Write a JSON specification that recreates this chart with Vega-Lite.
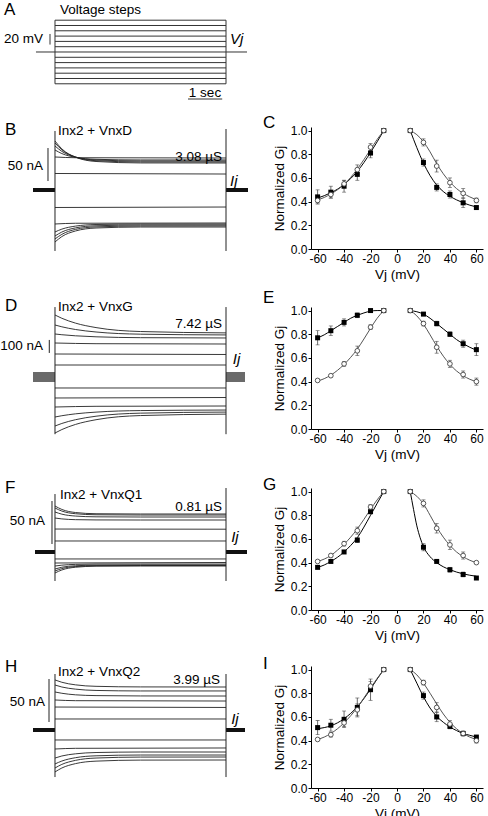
{
"$schema":"https://vega.github.io/schema/vega-lite/v6.json",
"padding":0,
"spacing":0,
"config":{
"view":{"stroke":null},
"font":"Liberation Sans",
"axis":{"labelFont":"Liberation Sans","titleFont":"Liberation Sans","labelFontSize":12,"titleFontSize":13.5,"titleFontWeight":"normal","labelColor":"#000","titleColor":"#000","domainColor":"#000","tickColor":"#000","tickSize":3,"labelPadding":1,"grid":false,"labelFlush":false,"labelOverlap":false},
"axisY":{"titlePadding":4},
"axisX":{"titlePadding":3,"labelExpr":"replace(datum.label, '\u2212', '-')"},
"text":{"font":"Liberation Sans","fontSize":13.5,"color":"#000"},
"title":{"font":"Liberation Sans","fontSize":17,"fontWeight":"normal","color":"#000","anchor":"start","frame":"group","offset":0,"baseline":"alphabetic","dx":-48}
},
"datasets":{
"traces":[
{"p":"B","v":10,"t":0,"i":25.0},{"p":"B","v":10,"t":5,"i":24.2},
{"p":"B","v":20,"t":0,"i":50.0},{"p":"B","v":20,"t":0.6,"i":48.9},{"p":"B","v":20,"t":5,"i":48.5},
{"p":"B","v":30,"t":0,"i":60.6},{"p":"B","v":30,"t":0.2,"i":55.2},{"p":"B","v":30,"t":0.6,"i":49.5},{"p":"B","v":30,"t":1.2,"i":46.5},{"p":"B","v":30,"t":2.5,"i":45.5},{"p":"B","v":30,"t":5,"i":45.5},
{"p":"B","v":40,"t":0,"i":66.7},{"p":"B","v":40,"t":0.2,"i":58.5},{"p":"B","v":40,"t":0.6,"i":49.9},{"p":"B","v":40,"t":1.2,"i":45.5},{"p":"B","v":40,"t":2.5,"i":44.0},{"p":"B","v":40,"t":5,"i":43.9},
{"p":"B","v":50,"t":0,"i":71.2},{"p":"B","v":50,"t":0.2,"i":60.9},{"p":"B","v":50,"t":0.6,"i":50.0},{"p":"B","v":50,"t":1.2,"i":44.4},{"p":"B","v":50,"t":2.5,"i":42.5},{"p":"B","v":50,"t":5,"i":42.4},
{"p":"B","v":60,"t":0,"i":74.2},{"p":"B","v":60,"t":0.2,"i":62.3},{"p":"B","v":60,"t":0.6,"i":49.7},{"p":"B","v":60,"t":1.2,"i":43.2},{"p":"B","v":60,"t":2.5,"i":41.0},{"p":"B","v":60,"t":5,"i":40.9},
{"p":"B","v":-10,"t":0,"i":-26.5},{"p":"B","v":-10,"t":5,"i":-25.8},
{"p":"B","v":-20,"t":0,"i":-51.5},{"p":"B","v":-20,"t":0.6,"i":-50.4},{"p":"B","v":-20,"t":5,"i":-50.0},
{"p":"B","v":-30,"t":0,"i":-63.6},{"p":"B","v":-30,"t":0.2,"i":-59.3},{"p":"B","v":-30,"t":0.6,"i":-54.7},{"p":"B","v":-30,"t":1.2,"i":-52.3},{"p":"B","v":-30,"t":2.5,"i":-51.6},{"p":"B","v":-30,"t":5,"i":-51.5},
{"p":"B","v":-40,"t":0,"i":-69.7},{"p":"B","v":-40,"t":0.2,"i":-63.7},{"p":"B","v":-40,"t":0.6,"i":-57.4},{"p":"B","v":-40,"t":1.2,"i":-54.2},{"p":"B","v":-40,"t":2.5,"i":-53.1},{"p":"B","v":-40,"t":5,"i":-53.0},
{"p":"B","v":-50,"t":0,"i":-74.2},{"p":"B","v":-50,"t":0.2,"i":-67.2},{"p":"B","v":-50,"t":0.6,"i":-59.7},{"p":"B","v":-50,"t":1.2,"i":-55.9},{"p":"B","v":-50,"t":2.5,"i":-54.6},{"p":"B","v":-50,"t":5,"i":-54.5},
{"p":"B","v":-60,"t":0,"i":-78.8},{"p":"B","v":-60,"t":0.2,"i":-70.6},{"p":"B","v":-60,"t":0.6,"i":-62.1},{"p":"B","v":-60,"t":1.2,"i":-57.6},{"p":"B","v":-60,"t":2.5,"i":-56.1},{"p":"B","v":-60,"t":5,"i":-56.1},

{"p":"D","v":10,"t":0,"i":92.3},{"p":"D","v":10,"t":5,"i":92.3},
{"p":"D","v":20,"t":0,"i":176.9},{"p":"D","v":20,"t":5,"i":173.1},
{"p":"D","v":30,"t":0,"i":261.5},{"p":"D","v":30,"t":1.2,"i":256.2},{"p":"D","v":30,"t":5,"i":253.8},
{"p":"D","v":40,"t":0,"i":330.8},{"p":"D","v":40,"t":0.2,"i":325.2},{"p":"D","v":40,"t":0.6,"i":316.9},{"p":"D","v":40,"t":1.2,"i":309.2},{"p":"D","v":40,"t":2.5,"i":302.5},{"p":"D","v":40,"t":5,"i":300.2},
{"p":"D","v":50,"t":0,"i":400.0},{"p":"D","v":50,"t":0.2,"i":386.1},{"p":"D","v":50,"t":0.6,"i":365.3},{"p":"D","v":50,"t":1.2,"i":346.2},{"p":"D","v":50,"t":2.5,"i":329.4},{"p":"D","v":50,"t":5,"i":323.6},
{"p":"D","v":60,"t":0,"i":476.9},{"p":"D","v":60,"t":0.2,"i":451.8},{"p":"D","v":60,"t":0.6,"i":414.4},{"p":"D","v":60,"t":1.2,"i":380.1},{"p":"D","v":60,"t":2.5,"i":349.8},{"p":"D","v":60,"t":5,"i":339.4},
{"p":"D","v":-10,"t":0,"i":-84.6},{"p":"D","v":-10,"t":5,"i":-84.6},
{"p":"D","v":-20,"t":0,"i":-161.5},{"p":"D","v":-20,"t":5,"i":-157.7},
{"p":"D","v":-30,"t":0,"i":-230.8},{"p":"D","v":-30,"t":1.2,"i":-225.4},{"p":"D","v":-30,"t":5,"i":-223.1},
{"p":"D","v":-40,"t":0,"i":-307.7},{"p":"D","v":-40,"t":0.2,"i":-297.9},{"p":"D","v":-40,"t":0.6,"i":-283.4},{"p":"D","v":-40,"t":1.2,"i":-270.1},{"p":"D","v":-40,"t":2.5,"i":-258.2},{"p":"D","v":-40,"t":5,"i":-254.2},
{"p":"D","v":-50,"t":0,"i":-376.9},{"p":"D","v":-50,"t":0.2,"i":-357.4},{"p":"D","v":-50,"t":0.6,"i":-328.4},{"p":"D","v":-50,"t":1.2,"i":-301.6},{"p":"D","v":-50,"t":2.5,"i":-278.1},{"p":"D","v":-50,"t":5,"i":-269.9},
{"p":"D","v":-60,"t":0,"i":-430.8},{"p":"D","v":-60,"t":0.2,"i":-404.3},{"p":"D","v":-60,"t":0.6,"i":-364.8},{"p":"D","v":-60,"t":1.2,"i":-328.6},{"p":"D","v":-60,"t":2.5,"i":-296.6},{"p":"D","v":-60,"t":5,"i":-285.6},

{"p":"F","v":10,"t":0,"i":12.8},{"p":"F","v":10,"t":5,"i":12.8},
{"p":"F","v":20,"t":0,"i":26.7},{"p":"F","v":20,"t":5,"i":26.5},
{"p":"F","v":30,"t":0,"i":39.5},{"p":"F","v":30,"t":0.2,"i":38.5},{"p":"F","v":30,"t":0.6,"i":37.6},{"p":"F","v":30,"t":1.2,"i":37.3},{"p":"F","v":30,"t":2.5,"i":37.2},{"p":"F","v":30,"t":5,"i":37.2},
{"p":"F","v":40,"t":0,"i":46.5},{"p":"F","v":40,"t":0.2,"i":44.0},{"p":"F","v":40,"t":0.6,"i":41.8},{"p":"F","v":40,"t":1.2,"i":40.9},{"p":"F","v":40,"t":2.5,"i":40.7},{"p":"F","v":40,"t":5,"i":40.7},
{"p":"F","v":50,"t":0,"i":51.2},{"p":"F","v":50,"t":0.2,"i":47.6},{"p":"F","v":50,"t":0.6,"i":44.5},{"p":"F","v":50,"t":1.2,"i":43.3},{"p":"F","v":50,"t":2.5,"i":43.0},{"p":"F","v":50,"t":5,"i":43.0},
{"p":"F","v":60,"t":0,"i":53.5},{"p":"F","v":60,"t":0.2,"i":49.5},{"p":"F","v":60,"t":0.6,"i":45.9},{"p":"F","v":60,"t":1.2,"i":44.5},{"p":"F","v":60,"t":2.5,"i":44.2},{"p":"F","v":60,"t":5,"i":44.2},
{"p":"F","v":-10,"t":0,"i":-8.1},{"p":"F","v":-10,"t":5,"i":-8.1},
{"p":"F","v":-20,"t":0,"i":-12.8},{"p":"F","v":-20,"t":5,"i":-12.2},
{"p":"F","v":-30,"t":0,"i":-16.3},{"p":"F","v":-30,"t":0.2,"i":-15.3},{"p":"F","v":-30,"t":0.6,"i":-14.4},{"p":"F","v":-30,"t":1.2,"i":-14.0},{"p":"F","v":-30,"t":2.5,"i":-14.0},{"p":"F","v":-30,"t":5,"i":-14.0},
{"p":"F","v":-40,"t":0,"i":-19.8},{"p":"F","v":-40,"t":0.2,"i":-17.7},{"p":"F","v":-40,"t":0.6,"i":-16.0},{"p":"F","v":-40,"t":1.2,"i":-15.3},{"p":"F","v":-40,"t":2.5,"i":-15.1},{"p":"F","v":-40,"t":5,"i":-15.1},
{"p":"F","v":-50,"t":0,"i":-22.1},{"p":"F","v":-50,"t":0.2,"i":-19.3},{"p":"F","v":-50,"t":0.6,"i":-16.9},{"p":"F","v":-50,"t":1.2,"i":-15.9},{"p":"F","v":-50,"t":2.5,"i":-15.7},{"p":"F","v":-50,"t":5,"i":-15.7},
{"p":"F","v":-60,"t":0,"i":-24.4},{"p":"F","v":-60,"t":0.2,"i":-20.9},{"p":"F","v":-60,"t":0.6,"i":-17.7},{"p":"F","v":-60,"t":1.2,"i":-16.5},{"p":"F","v":-60,"t":2.5,"i":-16.3},{"p":"F","v":-60,"t":5,"i":-16.3},

{"p":"H","v":10,"t":0,"i":12.8},{"p":"H","v":10,"t":5,"i":12.8},
{"p":"H","v":20,"t":0,"i":26.7},{"p":"H","v":20,"t":5,"i":26.2},
{"p":"H","v":30,"t":0,"i":34.9},{"p":"H","v":30,"t":0.6,"i":34.1},{"p":"H","v":30,"t":5,"i":33.7},
{"p":"H","v":40,"t":0,"i":44.2},{"p":"H","v":40,"t":0.2,"i":42.7},{"p":"H","v":40,"t":0.6,"i":40.9},{"p":"H","v":40,"t":1.2,"i":40.0},{"p":"H","v":40,"t":2.5,"i":39.6},{"p":"H","v":40,"t":5,"i":39.5},
{"p":"H","v":50,"t":0,"i":52.3},{"p":"H","v":50,"t":0.2,"i":50.0},{"p":"H","v":50,"t":0.6,"i":47.5},{"p":"H","v":50,"t":1.2,"i":46.0},{"p":"H","v":50,"t":2.5,"i":45.4},{"p":"H","v":50,"t":5,"i":45.4},
{"p":"H","v":60,"t":0,"i":58.2},{"p":"H","v":60,"t":0.2,"i":55.5},{"p":"H","v":60,"t":0.6,"i":52.5},{"p":"H","v":60,"t":1.2,"i":50.8},{"p":"H","v":60,"t":2.5,"i":50.1},{"p":"H","v":60,"t":5,"i":50.0},
{"p":"H","v":-10,"t":0,"i":-11.6},{"p":"H","v":-10,"t":5,"i":-11.6},
{"p":"H","v":-20,"t":0,"i":-22.1},{"p":"H","v":-20,"t":0.6,"i":-21.3},{"p":"H","v":-20,"t":5,"i":-20.9},
{"p":"H","v":-30,"t":0,"i":-32.6},{"p":"H","v":-30,"t":0.2,"i":-30.2},{"p":"H","v":-30,"t":0.6,"i":-27.7},{"p":"H","v":-30,"t":1.2,"i":-26.2},{"p":"H","v":-30,"t":2.5,"i":-25.6},{"p":"H","v":-30,"t":5,"i":-25.6},
{"p":"H","v":-40,"t":0,"i":-39.5},{"p":"H","v":-40,"t":0.2,"i":-36.1},{"p":"H","v":-40,"t":0.6,"i":-32.2},{"p":"H","v":-40,"t":1.2,"i":-30.0},{"p":"H","v":-40,"t":2.5,"i":-29.1},{"p":"H","v":-40,"t":5,"i":-29.1},
{"p":"H","v":-50,"t":0,"i":-44.2},{"p":"H","v":-50,"t":0.2,"i":-40.0},{"p":"H","v":-50,"t":0.6,"i":-35.3},{"p":"H","v":-50,"t":1.2,"i":-32.6},{"p":"H","v":-50,"t":2.5,"i":-31.5},{"p":"H","v":-50,"t":5,"i":-31.4},
{"p":"H","v":-60,"t":0,"i":-48.8},{"p":"H","v":-60,"t":0.2,"i":-44.2},{"p":"H","v":-60,"t":0.6,"i":-39.1},{"p":"H","v":-60,"t":1.2,"i":-36.2},{"p":"H","v":-60,"t":2.5,"i":-35.0},{"p":"H","v":-60,"t":5,"i":-34.9}
],
"edges":[
{"p":"A","t":0,"i":-60,"i2":60},{"p":"A","t":5,"i":-60,"i2":60},{"p":"A","t":-0.146,"i":14,"i2":34},
{"p":"B","t":0,"i":-92.4,"i2":89.4},{"p":"B","t":5,"i":-92.4,"i2":92.4},{"p":"B","t":-0.205,"i":13.6,"i2":63.6},
{"p":"D","t":0,"i":-440,"i2":538},{"p":"D","t":5,"i":-440,"i2":538},{"p":"D","t":-0.167,"i":185,"i2":285},
{"p":"F","t":0,"i":-33.7,"i2":67.4},{"p":"F","t":5,"i":-33.7,"i2":74.4},{"p":"F","t":-0.088,"i":9.3,"i2":59.3},
{"p":"H","t":0,"i":-54.7,"i2":65.1},{"p":"H","t":5,"i":-54.7,"i2":65.1},{"p":"H","t":-0.175,"i":9.3,"i2":59.3}
],
"hold":[
{"p":"A","t":-0.556,"t2":5.614,"i":0},{"p":"A","t":3.889,"t2":4.889,"i":-88.7},
{"p":"A","t":0,"t2":5,"i":-60},{"p":"A","t":0,"t2":5,"i":-50},{"p":"A","t":0,"t2":5,"i":-40},{"p":"A","t":0,"t2":5,"i":-30},{"p":"A","t":0,"t2":5,"i":-20},{"p":"A","t":0,"t2":5,"i":-10},
{"p":"A","t":0,"t2":5,"i":10},{"p":"A","t":0,"t2":5,"i":20},{"p":"A","t":0,"t2":5,"i":30},{"p":"A","t":0,"t2":5,"i":40},{"p":"A","t":0,"t2":5,"i":50},{"p":"A","t":0,"t2":5,"i":60},
{"p":"B","t":-0.643,"t2":0,"i":0},{"p":"B","t":5,"t2":5.643,"i":0},
{"p":"D","t":-0.643,"t2":0,"i":0},{"p":"D","t":5,"t2":5.555,"i":0},
{"p":"F","t":-0.585,"t2":0,"i":0},{"p":"F","t":5,"t2":5.614,"i":0},
{"p":"H","t":-0.643,"t2":0,"i":0},{"p":"H","t":5,"t2":5.555,"i":0}
],
"labels":[
{"p":"A","k":"letter","t":-1.491,"i":69.8,"text":"A"},{"p":"A","k":"name","t":0.146,"i":71.7,"text":"Voltage steps"},{"p":"A","k":"scale","t":-0.351,"i":24.5,"text":"20 mV"},{"p":"A","k":"ital","t":5.117,"i":24.5,"text":"Vj"},{"p":"A","k":"center","t":4.386,"i":-84.9,"text":"1 sec"},
{"p":"B","k":"letter","t":-1.462,"i":83.3,"text":"B"},{"p":"B","k":"name","t":0.088,"i":83.3,"text":"Inx2 + VnxD"},{"p":"B","k":"cond","t":4.883,"i":43.9,"text":"3.08 µS"},{"p":"B","k":"scale","t":-0.351,"i":36.4,"text":"50 nA"},{"p":"B","k":"ital","t":5.117,"i":13.6,"text":"Ij"},
{"p":"D","k":"letter","t":-1.462,"i":507.7,"text":"D"},{"p":"D","k":"name","t":0.088,"i":507.7,"text":"Inx2 + VnxG"},{"p":"D","k":"cond","t":4.883,"i":376.9,"text":"7.42 µS"},{"p":"D","k":"scale","t":-0.351,"i":238.5,"text":"100 nA"},{"p":"D","k":"ital","t":5.2,"i":138.5,"text":"Ij"},
{"p":"F","k":"letter","t":-1.462,"i":68.6,"text":"F"},{"p":"F","k":"name","t":0.146,"i":61.6,"text":"Inx2 + VnxQ1"},{"p":"F","k":"cond","t":4.883,"i":47.7,"text":"0.81 µS"},{"p":"F","k":"scale","t":-0.292,"i":36.0,"text":"50 nA"},{"p":"F","k":"ital","t":5.15,"i":17.4,"text":"Ij"},
{"p":"H","k":"letter","t":-1.462,"i":67.4,"text":"H"},{"p":"H","k":"name","t":0.088,"i":62.8,"text":"Inx2 + VnxQ2"},{"p":"H","k":"cond","t":4.825,"i":53.5,"text":"3.99 µS"},{"p":"H","k":"scale","t":-0.292,"i":32.6,"text":"50 nA"},{"p":"H","k":"ital","t":5.15,"i":12.8,"text":"Ij"}
],
"gj":[
{"p":"C","s":"sq","v":-60,"g":0.44,"lo":0.38,"hi":0.50},{"p":"C","s":"sq","v":-50,"g":0.48,"lo":0.43,"hi":0.53},{"p":"C","s":"sq","v":-40,"g":0.53,"lo":0.48,"hi":0.58},{"p":"C","s":"sq","v":-30,"g":0.63,"lo":0.58,"hi":0.68},{"p":"C","s":"sq","v":-20,"g":0.81,"lo":0.77,"hi":0.85},{"p":"C","s":"sq","v":-10,"g":1.0},{"p":"C","s":"sq","v":10,"g":1.0},{"p":"C","s":"sq","v":20,"g":0.73,"lo":0.70,"hi":0.76},{"p":"C","s":"sq","v":30,"g":0.52,"lo":0.49,"hi":0.55},{"p":"C","s":"sq","v":40,"g":0.46,"lo":0.43,"hi":0.49},{"p":"C","s":"sq","v":50,"g":0.39,"lo":0.35,"hi":0.43},{"p":"C","s":"sq","v":60,"g":0.35,"lo":0.34,"hi":0.36},
{"p":"C","s":"ci","v":-60,"g":0.41,"lo":0.39,"hi":0.43},{"p":"C","s":"ci","v":-50,"g":0.46,"lo":0.43,"hi":0.49},{"p":"C","s":"ci","v":-40,"g":0.55,"lo":0.52,"hi":0.58},{"p":"C","s":"ci","v":-30,"g":0.67,"lo":0.63,"hi":0.71},{"p":"C","s":"ci","v":-20,"g":0.86,"lo":0.83,"hi":0.89},{"p":"C","s":"ci","v":-10,"g":1.0},{"p":"C","s":"ci","v":10,"g":1.0},{"p":"C","s":"ci","v":20,"g":0.90,"lo":0.87,"hi":0.93},{"p":"C","s":"ci","v":30,"g":0.70,"lo":0.65,"hi":0.75},{"p":"C","s":"ci","v":40,"g":0.56,"lo":0.52,"hi":0.60},{"p":"C","s":"ci","v":50,"g":0.47,"lo":0.43,"hi":0.51},{"p":"C","s":"ci","v":60,"g":0.41,"lo":0.39,"hi":0.43},
{"p":"E","s":"sq","v":-60,"g":0.77,"lo":0.71,"hi":0.83},{"p":"E","s":"sq","v":-50,"g":0.83,"lo":0.79,"hi":0.87},{"p":"E","s":"sq","v":-40,"g":0.90,"lo":0.87,"hi":0.93},{"p":"E","s":"sq","v":-30,"g":0.96,"lo":0.94,"hi":0.98},{"p":"E","s":"sq","v":-20,"g":1.0,"lo":0.99,"hi":1.01},{"p":"E","s":"sq","v":-10,"g":1.0},{"p":"E","s":"sq","v":10,"g":1.0},{"p":"E","s":"sq","v":20,"g":0.97,"lo":0.96,"hi":0.98},{"p":"E","s":"sq","v":30,"g":0.89,"lo":0.87,"hi":0.91},{"p":"E","s":"sq","v":40,"g":0.80,"lo":0.78,"hi":0.82},{"p":"E","s":"sq","v":50,"g":0.72,"lo":0.69,"hi":0.75},{"p":"E","s":"sq","v":60,"g":0.67,"lo":0.62,"hi":0.72},
{"p":"E","s":"ci","v":-60,"g":0.41,"lo":0.40,"hi":0.42},{"p":"E","s":"ci","v":-50,"g":0.45,"lo":0.44,"hi":0.46},{"p":"E","s":"ci","v":-40,"g":0.55,"lo":0.53,"hi":0.57},{"p":"E","s":"ci","v":-30,"g":0.66,"lo":0.62,"hi":0.70},{"p":"E","s":"ci","v":-20,"g":0.86,"lo":0.84,"hi":0.88},{"p":"E","s":"ci","v":-10,"g":1.0},{"p":"E","s":"ci","v":10,"g":1.0},{"p":"E","s":"ci","v":20,"g":0.89,"lo":0.87,"hi":0.91},{"p":"E","s":"ci","v":30,"g":0.69,"lo":0.64,"hi":0.74},{"p":"E","s":"ci","v":40,"g":0.55,"lo":0.52,"hi":0.58},{"p":"E","s":"ci","v":50,"g":0.46,"lo":0.43,"hi":0.49},{"p":"E","s":"ci","v":60,"g":0.40,"lo":0.37,"hi":0.43},
{"p":"G","s":"sq","v":-60,"g":0.36},{"p":"G","s":"sq","v":-50,"g":0.41},{"p":"G","s":"sq","v":-40,"g":0.49},{"p":"G","s":"sq","v":-30,"g":0.59,"lo":0.57,"hi":0.61},{"p":"G","s":"sq","v":-20,"g":0.83},{"p":"G","s":"sq","v":-10,"g":1.0},{"p":"G","s":"sq","v":10,"g":1.0},{"p":"G","s":"sq","v":20,"g":0.53,"lo":0.50,"hi":0.56},{"p":"G","s":"sq","v":30,"g":0.41},{"p":"G","s":"sq","v":40,"g":0.34,"lo":0.32,"hi":0.36},{"p":"G","s":"sq","v":50,"g":0.30,"lo":0.28,"hi":0.32},{"p":"G","s":"sq","v":60,"g":0.27},
{"p":"G","s":"ci","v":-60,"g":0.41},{"p":"G","s":"ci","v":-50,"g":0.46,"lo":0.45,"hi":0.47},{"p":"G","s":"ci","v":-40,"g":0.56,"lo":0.54,"hi":0.58},{"p":"G","s":"ci","v":-30,"g":0.67,"lo":0.64,"hi":0.70},{"p":"G","s":"ci","v":-20,"g":0.87,"lo":0.85,"hi":0.89},{"p":"G","s":"ci","v":-10,"g":1.0},{"p":"G","s":"ci","v":10,"g":1.0},{"p":"G","s":"ci","v":20,"g":0.90,"lo":0.87,"hi":0.93},{"p":"G","s":"ci","v":30,"g":0.69,"lo":0.65,"hi":0.73},{"p":"G","s":"ci","v":40,"g":0.55,"lo":0.51,"hi":0.59},{"p":"G","s":"ci","v":50,"g":0.46,"lo":0.43,"hi":0.49},{"p":"G","s":"ci","v":60,"g":0.40},
{"p":"I","s":"sq","v":-60,"g":0.51,"lo":0.45,"hi":0.57},{"p":"I","s":"sq","v":-50,"g":0.53,"lo":0.48,"hi":0.58},{"p":"I","s":"sq","v":-40,"g":0.58,"lo":0.51,"hi":0.65},{"p":"I","s":"sq","v":-30,"g":0.68,"lo":0.60,"hi":0.76},{"p":"I","s":"sq","v":-20,"g":0.83,"lo":0.74,"hi":0.92},{"p":"I","s":"sq","v":-10,"g":1.0},{"p":"I","s":"sq","v":10,"g":1.0},{"p":"I","s":"sq","v":20,"g":0.78,"lo":0.75,"hi":0.81},{"p":"I","s":"sq","v":30,"g":0.60,"lo":0.56,"hi":0.64},{"p":"I","s":"sq","v":40,"g":0.52,"lo":0.50,"hi":0.54},{"p":"I","s":"sq","v":50,"g":0.46,"lo":0.44,"hi":0.48},{"p":"I","s":"sq","v":60,"g":0.43},
{"p":"I","s":"ci","v":-60,"g":0.41},{"p":"I","s":"ci","v":-50,"g":0.45,"lo":0.43,"hi":0.47},{"p":"I","s":"ci","v":-40,"g":0.55,"lo":0.52,"hi":0.58},{"p":"I","s":"ci","v":-30,"g":0.66,"lo":0.61,"hi":0.71},{"p":"I","s":"ci","v":-20,"g":0.86,"lo":0.82,"hi":0.90},{"p":"I","s":"ci","v":-10,"g":1.0},{"p":"I","s":"ci","v":10,"g":1.0},{"p":"I","s":"ci","v":20,"g":0.89,"lo":0.87,"hi":0.91},{"p":"I","s":"ci","v":30,"g":0.68,"lo":0.64,"hi":0.72},{"p":"I","s":"ci","v":40,"g":0.54,"lo":0.51,"hi":0.57},{"p":"I","s":"ci","v":50,"g":0.46,"lo":0.44,"hi":0.48},{"p":"I","s":"ci","v":60,"g":0.40,"lo":0.38,"hi":0.42}
],
"fits":[
{"p":"C","s":"sq","side":"n","v":-60,"g":0.43},{"p":"C","s":"sq","side":"n","v":-55,"g":0.45},{"p":"C","s":"sq","side":"n","v":-50,"g":0.475},{"p":"C","s":"sq","side":"n","v":-45,"g":0.505},{"p":"C","s":"sq","side":"n","v":-40,"g":0.545},{"p":"C","s":"sq","side":"n","v":-35,"g":0.595},{"p":"C","s":"sq","side":"n","v":-30,"g":0.655},{"p":"C","s":"sq","side":"n","v":-25,"g":0.73},{"p":"C","s":"sq","side":"n","v":-20,"g":0.815},{"p":"C","s":"sq","side":"n","v":-15,"g":0.905},{"p":"C","s":"sq","side":"n","v":-10,"g":1.0},
{"p":"C","s":"ci","side":"n","v":-60,"g":0.415},{"p":"C","s":"ci","side":"n","v":-55,"g":0.435},{"p":"C","s":"ci","side":"n","v":-50,"g":0.465},{"p":"C","s":"ci","side":"n","v":-45,"g":0.5},{"p":"C","s":"ci","side":"n","v":-40,"g":0.545},{"p":"C","s":"ci","side":"n","v":-35,"g":0.605},{"p":"C","s":"ci","side":"n","v":-30,"g":0.675},{"p":"C","s":"ci","side":"n","v":-25,"g":0.755},{"p":"C","s":"ci","side":"n","v":-20,"g":0.84},{"p":"C","s":"ci","side":"n","v":-15,"g":0.925},{"p":"C","s":"ci","side":"n","v":-10,"g":1.0},
{"p":"C","s":"sq","side":"p","v":10,"g":1.0},{"p":"C","s":"sq","side":"p","v":15,"g":0.855},{"p":"C","s":"sq","side":"p","v":20,"g":0.725},{"p":"C","s":"sq","side":"p","v":25,"g":0.62},{"p":"C","s":"sq","side":"p","v":30,"g":0.54},{"p":"C","s":"sq","side":"p","v":35,"g":0.485},{"p":"C","s":"sq","side":"p","v":40,"g":0.445},{"p":"C","s":"sq","side":"p","v":45,"g":0.415},{"p":"C","s":"sq","side":"p","v":50,"g":0.39},{"p":"C","s":"sq","side":"p","v":55,"g":0.37},{"p":"C","s":"sq","side":"p","v":60,"g":0.355},
{"p":"C","s":"ci","side":"p","v":10,"g":1.0},{"p":"C","s":"ci","side":"p","v":15,"g":0.965},{"p":"C","s":"ci","side":"p","v":20,"g":0.905},{"p":"C","s":"ci","side":"p","v":25,"g":0.82},{"p":"C","s":"ci","side":"p","v":30,"g":0.72},{"p":"C","s":"ci","side":"p","v":35,"g":0.635},{"p":"C","s":"ci","side":"p","v":40,"g":0.565},{"p":"C","s":"ci","side":"p","v":45,"g":0.51},{"p":"C","s":"ci","side":"p","v":50,"g":0.47},{"p":"C","s":"ci","side":"p","v":55,"g":0.44},{"p":"C","s":"ci","side":"p","v":60,"g":0.415},
{"p":"E","s":"sq","side":"n","v":-60,"g":0.77},{"p":"E","s":"sq","side":"n","v":-55,"g":0.795},{"p":"E","s":"sq","side":"n","v":-50,"g":0.83},{"p":"E","s":"sq","side":"n","v":-45,"g":0.865},{"p":"E","s":"sq","side":"n","v":-40,"g":0.9},{"p":"E","s":"sq","side":"n","v":-35,"g":0.935},{"p":"E","s":"sq","side":"n","v":-30,"g":0.96},{"p":"E","s":"sq","side":"n","v":-25,"g":0.98},{"p":"E","s":"sq","side":"n","v":-20,"g":0.995},{"p":"E","s":"sq","side":"n","v":-15,"g":1.0},{"p":"E","s":"sq","side":"n","v":-10,"g":1.0},
{"p":"E","s":"ci","side":"n","v":-60,"g":0.405},{"p":"E","s":"ci","side":"n","v":-55,"g":0.425},{"p":"E","s":"ci","side":"n","v":-50,"g":0.455},{"p":"E","s":"ci","side":"n","v":-45,"g":0.495},{"p":"E","s":"ci","side":"n","v":-40,"g":0.545},{"p":"E","s":"ci","side":"n","v":-35,"g":0.605},{"p":"E","s":"ci","side":"n","v":-30,"g":0.675},{"p":"E","s":"ci","side":"n","v":-25,"g":0.76},{"p":"E","s":"ci","side":"n","v":-20,"g":0.85},{"p":"E","s":"ci","side":"n","v":-15,"g":0.935},{"p":"E","s":"ci","side":"n","v":-10,"g":1.0},
{"p":"E","s":"sq","side":"p","v":10,"g":1.0},{"p":"E","s":"sq","side":"p","v":15,"g":0.99},{"p":"E","s":"sq","side":"p","v":20,"g":0.97},{"p":"E","s":"sq","side":"p","v":25,"g":0.935},{"p":"E","s":"sq","side":"p","v":30,"g":0.89},{"p":"E","s":"sq","side":"p","v":35,"g":0.845},{"p":"E","s":"sq","side":"p","v":40,"g":0.8},{"p":"E","s":"sq","side":"p","v":45,"g":0.755},{"p":"E","s":"sq","side":"p","v":50,"g":0.72},{"p":"E","s":"sq","side":"p","v":55,"g":0.69},{"p":"E","s":"sq","side":"p","v":60,"g":0.665},
{"p":"E","s":"ci","side":"p","v":10,"g":1.0},{"p":"E","s":"ci","side":"p","v":15,"g":0.955},{"p":"E","s":"ci","side":"p","v":20,"g":0.885},{"p":"E","s":"ci","side":"p","v":25,"g":0.795},{"p":"E","s":"ci","side":"p","v":30,"g":0.7},{"p":"E","s":"ci","side":"p","v":35,"g":0.615},{"p":"E","s":"ci","side":"p","v":40,"g":0.545},{"p":"E","s":"ci","side":"p","v":45,"g":0.49},{"p":"E","s":"ci","side":"p","v":50,"g":0.45},{"p":"E","s":"ci","side":"p","v":55,"g":0.42},{"p":"E","s":"ci","side":"p","v":60,"g":0.4},
{"p":"G","s":"sq","side":"n","v":-60,"g":0.36},{"p":"G","s":"sq","side":"n","v":-55,"g":0.38},{"p":"G","s":"sq","side":"n","v":-50,"g":0.41},{"p":"G","s":"sq","side":"n","v":-45,"g":0.445},{"p":"G","s":"sq","side":"n","v":-40,"g":0.49},{"p":"G","s":"sq","side":"n","v":-35,"g":0.545},{"p":"G","s":"sq","side":"n","v":-30,"g":0.61},{"p":"G","s":"sq","side":"n","v":-25,"g":0.7},{"p":"G","s":"sq","side":"n","v":-20,"g":0.8},{"p":"G","s":"sq","side":"n","v":-15,"g":0.9},{"p":"G","s":"sq","side":"n","v":-10,"g":1.0},
{"p":"G","s":"ci","side":"n","v":-60,"g":0.41},{"p":"G","s":"ci","side":"n","v":-55,"g":0.43},{"p":"G","s":"ci","side":"n","v":-50,"g":0.46},{"p":"G","s":"ci","side":"n","v":-45,"g":0.505},{"p":"G","s":"ci","side":"n","v":-40,"g":0.555},{"p":"G","s":"ci","side":"n","v":-35,"g":0.615},{"p":"G","s":"ci","side":"n","v":-30,"g":0.685},{"p":"G","s":"ci","side":"n","v":-25,"g":0.765},{"p":"G","s":"ci","side":"n","v":-20,"g":0.85},{"p":"G","s":"ci","side":"n","v":-15,"g":0.93},{"p":"G","s":"ci","side":"n","v":-10,"g":1.0},
{"p":"G","s":"sq","side":"p","v":10,"g":1.0},{"p":"G","s":"sq","side":"p","v":12.5,"g":0.85},{"p":"G","s":"sq","side":"p","v":15,"g":0.71},{"p":"G","s":"sq","side":"p","v":17.5,"g":0.61},{"p":"G","s":"sq","side":"p","v":20,"g":0.535},{"p":"G","s":"sq","side":"p","v":25,"g":0.45},{"p":"G","s":"sq","side":"p","v":30,"g":0.4},{"p":"G","s":"sq","side":"p","v":35,"g":0.365},{"p":"G","s":"sq","side":"p","v":40,"g":0.34},{"p":"G","s":"sq","side":"p","v":50,"g":0.305},{"p":"G","s":"sq","side":"p","v":60,"g":0.285},
{"p":"G","s":"ci","side":"p","v":10,"g":1.0},{"p":"G","s":"ci","side":"p","v":15,"g":0.96},{"p":"G","s":"ci","side":"p","v":20,"g":0.895},{"p":"G","s":"ci","side":"p","v":25,"g":0.8},{"p":"G","s":"ci","side":"p","v":30,"g":0.7},{"p":"G","s":"ci","side":"p","v":35,"g":0.615},{"p":"G","s":"ci","side":"p","v":40,"g":0.545},{"p":"G","s":"ci","side":"p","v":45,"g":0.49},{"p":"G","s":"ci","side":"p","v":50,"g":0.45},{"p":"G","s":"ci","side":"p","v":55,"g":0.42},{"p":"G","s":"ci","side":"p","v":60,"g":0.4},
{"p":"I","s":"sq","side":"n","v":-60,"g":0.5},{"p":"I","s":"sq","side":"n","v":-55,"g":0.51},{"p":"I","s":"sq","side":"n","v":-50,"g":0.525},{"p":"I","s":"sq","side":"n","v":-45,"g":0.55},{"p":"I","s":"sq","side":"n","v":-40,"g":0.585},{"p":"I","s":"sq","side":"n","v":-35,"g":0.63},{"p":"I","s":"sq","side":"n","v":-30,"g":0.685},{"p":"I","s":"sq","side":"n","v":-25,"g":0.755},{"p":"I","s":"sq","side":"n","v":-20,"g":0.835},{"p":"I","s":"sq","side":"n","v":-15,"g":0.92},{"p":"I","s":"sq","side":"n","v":-10,"g":1.0},
{"p":"I","s":"ci","side":"n","v":-60,"g":0.41},{"p":"I","s":"ci","side":"n","v":-55,"g":0.43},{"p":"I","s":"ci","side":"n","v":-50,"g":0.46},{"p":"I","s":"ci","side":"n","v":-45,"g":0.5},{"p":"I","s":"ci","side":"n","v":-40,"g":0.55},{"p":"I","s":"ci","side":"n","v":-35,"g":0.61},{"p":"I","s":"ci","side":"n","v":-30,"g":0.68},{"p":"I","s":"ci","side":"n","v":-25,"g":0.76},{"p":"I","s":"ci","side":"n","v":-20,"g":0.845},{"p":"I","s":"ci","side":"n","v":-15,"g":0.925},{"p":"I","s":"ci","side":"n","v":-10,"g":1.0},
{"p":"I","s":"sq","side":"p","v":10,"g":1.0},{"p":"I","s":"sq","side":"p","v":15,"g":0.885},{"p":"I","s":"sq","side":"p","v":20,"g":0.77},{"p":"I","s":"sq","side":"p","v":25,"g":0.675},{"p":"I","s":"sq","side":"p","v":30,"g":0.605},{"p":"I","s":"sq","side":"p","v":35,"g":0.555},{"p":"I","s":"sq","side":"p","v":40,"g":0.515},{"p":"I","s":"sq","side":"p","v":45,"g":0.485},{"p":"I","s":"sq","side":"p","v":50,"g":0.46},{"p":"I","s":"sq","side":"p","v":55,"g":0.445},{"p":"I","s":"sq","side":"p","v":60,"g":0.43},
{"p":"I","s":"ci","side":"p","v":10,"g":1.0},{"p":"I","s":"ci","side":"p","v":15,"g":0.955},{"p":"I","s":"ci","side":"p","v":20,"g":0.885},{"p":"I","s":"ci","side":"p","v":25,"g":0.8},{"p":"I","s":"ci","side":"p","v":30,"g":0.71},{"p":"I","s":"ci","side":"p","v":35,"g":0.625},{"p":"I","s":"ci","side":"p","v":40,"g":0.555},{"p":"I","s":"ci","side":"p","v":45,"g":0.5},{"p":"I","s":"ci","side":"p","v":50,"g":0.46},{"p":"I","s":"ci","side":"p","v":55,"g":0.43},{"p":"I","s":"ci","side":"p","v":60,"g":0.41}
]
},
"vconcat":[
{
"width":252,"height":113,
"encoding":{"x":{"field":"t","type":"quantitative","scale":{"domain":[-1.608,5.76],"nice":false,"zero":false},"axis":null},"y":{"field":"i","type":"quantitative","scale":{"domain":[-115.1,98.1],"nice":false,"zero":false},"axis":null}},
"layer":[
{"data":{"name":"hold"},"transform":[{"filter":"datum.p==='A'"}],"mark":{"type":"rule","strokeWidth":1,"color":"#333"},"encoding":{"x2":{"field":"t2"}}},
{"data":{"name":"edges"},"transform":[{"filter":"datum.p==='A'"}],"mark":{"type":"rule","strokeWidth":1,"color":"#333"},"encoding":{"y2":{"field":"i2"}}},
{"data":{"name":"labels"},"transform":[{"filter":"datum.p==='A' && datum.k==='letter'"}],"mark":{"type":"text","fontSize":17,"align":"left","baseline":"alphabetic"},"encoding":{"text":{"field":"text"}}},
{"data":{"name":"labels"},"transform":[{"filter":"datum.p==='A' && datum.k==='name'"}],"mark":{"type":"text","align":"left","baseline":"alphabetic"},"encoding":{"text":{"field":"text"}}},
{"data":{"name":"labels"},"transform":[{"filter":"datum.p==='A' && datum.k==='scale'"}],"mark":{"type":"text","align":"right","baseline":"middle"},"encoding":{"text":{"field":"text"}}},
{"data":{"name":"labels"},"transform":[{"filter":"datum.p==='A' && datum.k==='ital'"}],"mark":{"type":"text","align":"left","baseline":"middle","fontStyle":"italic","fontSize":15},"encoding":{"text":{"field":"text"}}},
{"data":{"name":"labels"},"transform":[{"filter":"datum.p==='A' && datum.k==='center'"}],"mark":{"type":"text","align":"center","baseline":"alphabetic"},"encoding":{"text":{"field":"text"}}}
]
},
{"spacing":11,"hconcat":[
{
"width":252,"height":161,
"encoding":{"x":{"field":"t","type":"quantitative","scale":{"domain":[-1.608,5.76],"nice":false,"zero":false},"axis":null},"y":{"field":"i","type":"quantitative","scale":{"domain":[-148.49,95.45],"nice":false,"zero":false},"axis":null}},
"layer":[
{"data":{"name":"hold"},"transform":[{"filter":"datum.p==='B'"}],"mark":{"type":"rule","strokeWidth":4,"color":"#111"},"encoding":{"x2":{"field":"t2"}}},
{"data":{"name":"traces"},"transform":[{"filter":"datum.p==='B'"}],"mark":{"type":"line","interpolate":"monotone","strokeWidth":0.9,"color":"#222"},"encoding":{"detail":{"field":"v","type":"nominal"}}},
{"data":{"name":"edges"},"transform":[{"filter":"datum.p==='B'"}],"mark":{"type":"rule","strokeWidth":1,"color":"#222"},"encoding":{"y2":{"field":"i2"}}},
{"data":{"name":"labels"},"transform":[{"filter":"datum.p==='B' && datum.k==='letter'"}],"mark":{"type":"text","fontSize":17,"align":"left","baseline":"alphabetic"},"encoding":{"text":{"field":"text"}}},
{"data":{"name":"labels"},"transform":[{"filter":"datum.p==='B' && datum.k==='name'"}],"mark":{"type":"text","align":"left","baseline":"alphabetic"},"encoding":{"text":{"field":"text"}}},
{"data":{"name":"labels"},"transform":[{"filter":"datum.p==='B' && datum.k==='cond'"}],"mark":{"type":"text","align":"right","baseline":"alphabetic"},"encoding":{"text":{"field":"text"}}},
{"data":{"name":"labels"},"transform":[{"filter":"datum.p==='B' && datum.k==='scale'"}],"mark":{"type":"text","align":"right","baseline":"middle"},"encoding":{"text":{"field":"text"}}},
{"data":{"name":"labels"},"transform":[{"filter":"datum.p==='B' && datum.k==='ital'"}],"mark":{"type":"text","align":"left","baseline":"middle","fontStyle":"italic","fontSize":15},"encoding":{"text":{"field":"text"}}}
]
},
{
"width":172,"height":122,
"title":{"text":"C","dy":11.4},
"encoding":{"x":{"field":"v","type":"quantitative","scale":{"domain":[-65,65],"nice":false,"zero":false},"axis":{"values":[-60,-40,-20,0,20,40,60],"title":"Vj (mV)"}},"y":{"field":"g","type":"quantitative","scale":{"domain":[0,1.03],"nice":false},"axis":{"values":[0,0.2,0.4,0.6,0.8,1],"format":".1f","title":"Normalized Gj"}}},
"layer":[
{"data":{"name":"fits"},"transform":[{"filter":"datum.p==='C' && datum.s==='sq'"}],"mark":{"type":"line","interpolate":"monotone","color":"#000","strokeWidth":1},"encoding":{"detail":{"field":"side","type":"nominal"}}},
{"data":{"name":"fits"},"transform":[{"filter":"datum.p==='C' && datum.s==='ci'"}],"mark":{"type":"line","interpolate":"monotone","color":"#555","strokeWidth":1},"encoding":{"detail":{"field":"side","type":"nominal"}}},
{"data":{"name":"gj"},"transform":[{"filter":"datum.p==='C' && isValid(datum.lo)"}],"mark":{"type":"rule","color":"#444","strokeWidth":0.8},"encoding":{"y":{"field":"lo","type":"quantitative","title":"Normalized Gj"},"y2":{"field":"hi"}}},
{"data":{"name":"gj"},"transform":[{"filter":"datum.p==='C' && isValid(datum.lo)"}],"mark":{"type":"tick","orient":"horizontal","size":4,"thickness":0.8,"color":"#444"},"encoding":{"y":{"field":"lo","type":"quantitative","title":"Normalized Gj"}}},
{"data":{"name":"gj"},"transform":[{"filter":"datum.p==='C' && isValid(datum.lo)"}],"mark":{"type":"tick","orient":"horizontal","size":4,"thickness":0.8,"color":"#444"},"encoding":{"y":{"field":"hi","type":"quantitative","title":"Normalized Gj"}}},
{"data":{"name":"gj"},"transform":[{"filter":"datum.p==='C' && datum.s==='sq'"}],"mark":{"type":"point","shape":"square","filled":true,"color":"#000","size":25,"opacity":1}},
{"data":{"name":"gj"},"transform":[{"filter":"datum.p==='C' && datum.s==='ci'"}],"mark":{"type":"point","shape":"circle","filled":true,"fill":"#fff","stroke":"#444","strokeWidth":0.9,"size":22,"opacity":1}}
]
}
]},
{"spacing":11,"hconcat":[
{
"width":252,"height":168,
"encoding":{"x":{"field":"t","type":"quantitative","scale":{"domain":[-1.608,5.76],"nice":false,"zero":false},"axis":null},"y":{"field":"i","type":"quantitative","scale":{"domain":[-753.85,538.46],"nice":false,"zero":false},"axis":null}},
"layer":[
{"data":{"name":"hold"},"transform":[{"filter":"datum.p==='D'"}],"mark":{"type":"rule","strokeWidth":10,"color":"#6a6a6a"},"encoding":{"x2":{"field":"t2"}}},
{"data":{"name":"traces"},"transform":[{"filter":"datum.p==='D'"}],"mark":{"type":"line","interpolate":"monotone","strokeWidth":0.9,"color":"#222"},"encoding":{"detail":{"field":"v","type":"nominal"}}},
{"data":{"name":"edges"},"transform":[{"filter":"datum.p==='D'"}],"mark":{"type":"rule","strokeWidth":1,"color":"#222"},"encoding":{"y2":{"field":"i2"}}},
{"data":{"name":"labels"},"transform":[{"filter":"datum.p==='D' && datum.k==='letter'"}],"mark":{"type":"text","fontSize":17,"align":"left","baseline":"alphabetic"},"encoding":{"text":{"field":"text"}}},
{"data":{"name":"labels"},"transform":[{"filter":"datum.p==='D' && datum.k==='name'"}],"mark":{"type":"text","align":"left","baseline":"alphabetic"},"encoding":{"text":{"field":"text"}}},
{"data":{"name":"labels"},"transform":[{"filter":"datum.p==='D' && datum.k==='cond'"}],"mark":{"type":"text","align":"right","baseline":"alphabetic"},"encoding":{"text":{"field":"text"}}},
{"data":{"name":"labels"},"transform":[{"filter":"datum.p==='D' && datum.k==='scale'"}],"mark":{"type":"text","align":"right","baseline":"middle"},"encoding":{"text":{"field":"text"}}},
{"data":{"name":"labels"},"transform":[{"filter":"datum.p==='D' && datum.k==='ital'"}],"mark":{"type":"text","align":"left","baseline":"middle","fontStyle":"italic","fontSize":15},"encoding":{"text":{"field":"text"}}}
]
},
{
"width":172,"height":122,
"title":{"text":"E","dy":6.4},
"encoding":{"x":{"field":"v","type":"quantitative","scale":{"domain":[-65,65],"nice":false,"zero":false},"axis":{"values":[-60,-40,-20,0,20,40,60],"title":"Vj (mV)"}},"y":{"field":"g","type":"quantitative","scale":{"domain":[0,1.03],"nice":false},"axis":{"values":[0,0.2,0.4,0.6,0.8,1],"format":".1f","title":"Normalized Gj"}}},
"layer":[
{"data":{"name":"fits"},"transform":[{"filter":"datum.p==='E' && datum.s==='sq'"}],"mark":{"type":"line","interpolate":"monotone","color":"#000","strokeWidth":1},"encoding":{"detail":{"field":"side","type":"nominal"}}},
{"data":{"name":"fits"},"transform":[{"filter":"datum.p==='E' && datum.s==='ci'"}],"mark":{"type":"line","interpolate":"monotone","color":"#555","strokeWidth":1},"encoding":{"detail":{"field":"side","type":"nominal"}}},
{"data":{"name":"gj"},"transform":[{"filter":"datum.p==='E' && isValid(datum.lo)"}],"mark":{"type":"rule","color":"#444","strokeWidth":0.8},"encoding":{"y":{"field":"lo","type":"quantitative","title":"Normalized Gj"},"y2":{"field":"hi"}}},
{"data":{"name":"gj"},"transform":[{"filter":"datum.p==='E' && isValid(datum.lo)"}],"mark":{"type":"tick","orient":"horizontal","size":4,"thickness":0.8,"color":"#444"},"encoding":{"y":{"field":"lo","type":"quantitative","title":"Normalized Gj"}}},
{"data":{"name":"gj"},"transform":[{"filter":"datum.p==='E' && isValid(datum.lo)"}],"mark":{"type":"tick","orient":"horizontal","size":4,"thickness":0.8,"color":"#444"},"encoding":{"y":{"field":"hi","type":"quantitative","title":"Normalized Gj"}}},
{"data":{"name":"gj"},"transform":[{"filter":"datum.p==='E' && datum.s==='sq'"}],"mark":{"type":"point","shape":"square","filled":true,"color":"#000","size":25,"opacity":1}},
{"data":{"name":"gj"},"transform":[{"filter":"datum.p==='E' && datum.s==='ci'"}],"mark":{"type":"point","shape":"circle","filled":true,"fill":"#fff","stroke":"#444","strokeWidth":0.9,"size":22,"opacity":1}}
]
}
]},
{"spacing":11,"hconcat":[
{
"width":252,"height":166,
"encoding":{"x":{"field":"t","type":"quantitative","scale":{"domain":[-1.608,5.76],"nice":false,"zero":false},"axis":null},"y":{"field":"i","type":"quantitative","scale":{"domain":[-118.6,74.42],"nice":false,"zero":false},"axis":null}},
"layer":[
{"data":{"name":"hold"},"transform":[{"filter":"datum.p==='F'"}],"mark":{"type":"rule","strokeWidth":4,"color":"#111"},"encoding":{"x2":{"field":"t2"}}},
{"data":{"name":"traces"},"transform":[{"filter":"datum.p==='F'"}],"mark":{"type":"line","interpolate":"monotone","strokeWidth":0.9,"color":"#222"},"encoding":{"detail":{"field":"v","type":"nominal"}}},
{"data":{"name":"edges"},"transform":[{"filter":"datum.p==='F'"}],"mark":{"type":"rule","strokeWidth":1,"color":"#222"},"encoding":{"y2":{"field":"i2"}}},
{"data":{"name":"labels"},"transform":[{"filter":"datum.p==='F' && datum.k==='letter'"}],"mark":{"type":"text","fontSize":17,"align":"left","baseline":"alphabetic"},"encoding":{"text":{"field":"text"}}},
{"data":{"name":"labels"},"transform":[{"filter":"datum.p==='F' && datum.k==='name'"}],"mark":{"type":"text","align":"left","baseline":"alphabetic"},"encoding":{"text":{"field":"text"}}},
{"data":{"name":"labels"},"transform":[{"filter":"datum.p==='F' && datum.k==='cond'"}],"mark":{"type":"text","align":"right","baseline":"alphabetic"},"encoding":{"text":{"field":"text"}}},
{"data":{"name":"labels"},"transform":[{"filter":"datum.p==='F' && datum.k==='scale'"}],"mark":{"type":"text","align":"right","baseline":"middle"},"encoding":{"text":{"field":"text"}}},
{"data":{"name":"labels"},"transform":[{"filter":"datum.p==='F' && datum.k==='ital'"}],"mark":{"type":"text","align":"left","baseline":"middle","fontStyle":"italic","fontSize":15},"encoding":{"text":{"field":"text"}}}
]
},
{
"width":172,"height":122,
"title":{"text":"G","dy":12.4},
"encoding":{"x":{"field":"v","type":"quantitative","scale":{"domain":[-65,65],"nice":false,"zero":false},"axis":{"values":[-60,-40,-20,0,20,40,60],"title":"Vj (mV)"}},"y":{"field":"g","type":"quantitative","scale":{"domain":[0,1.03],"nice":false},"axis":{"values":[0,0.2,0.4,0.6,0.8,1],"format":".1f","title":"Normalized Gj"}}},
"layer":[
{"data":{"name":"fits"},"transform":[{"filter":"datum.p==='G' && datum.s==='sq'"}],"mark":{"type":"line","interpolate":"monotone","color":"#000","strokeWidth":1},"encoding":{"detail":{"field":"side","type":"nominal"}}},
{"data":{"name":"fits"},"transform":[{"filter":"datum.p==='G' && datum.s==='ci'"}],"mark":{"type":"line","interpolate":"monotone","color":"#555","strokeWidth":1},"encoding":{"detail":{"field":"side","type":"nominal"}}},
{"data":{"name":"gj"},"transform":[{"filter":"datum.p==='G' && isValid(datum.lo)"}],"mark":{"type":"rule","color":"#444","strokeWidth":0.8},"encoding":{"y":{"field":"lo","type":"quantitative","title":"Normalized Gj"},"y2":{"field":"hi"}}},
{"data":{"name":"gj"},"transform":[{"filter":"datum.p==='G' && isValid(datum.lo)"}],"mark":{"type":"tick","orient":"horizontal","size":4,"thickness":0.8,"color":"#444"},"encoding":{"y":{"field":"lo","type":"quantitative","title":"Normalized Gj"}}},
{"data":{"name":"gj"},"transform":[{"filter":"datum.p==='G' && isValid(datum.lo)"}],"mark":{"type":"tick","orient":"horizontal","size":4,"thickness":0.8,"color":"#444"},"encoding":{"y":{"field":"hi","type":"quantitative","title":"Normalized Gj"}}},
{"data":{"name":"gj"},"transform":[{"filter":"datum.p==='G' && datum.s==='sq'"}],"mark":{"type":"point","shape":"square","filled":true,"color":"#000","size":25,"opacity":1}},
{"data":{"name":"gj"},"transform":[{"filter":"datum.p==='G' && datum.s==='ci'"}],"mark":{"type":"point","shape":"circle","filled":true,"fill":"#fff","stroke":"#444","strokeWidth":0.9,"size":22,"opacity":1}}
]
}
]},
{"spacing":11,"hconcat":[
{
"width":252,"height":170,
"encoding":{"x":{"field":"t","type":"quantitative","scale":{"domain":[-1.608,5.76],"nice":false,"zero":false},"axis":null},"y":{"field":"i","type":"quantitative","scale":{"domain":[-123.26,74.42],"nice":false,"zero":false},"axis":null}},
"layer":[
{"data":{"name":"hold"},"transform":[{"filter":"datum.p==='H'"}],"mark":{"type":"rule","strokeWidth":4,"color":"#111"},"encoding":{"x2":{"field":"t2"}}},
{"data":{"name":"traces"},"transform":[{"filter":"datum.p==='H'"}],"mark":{"type":"line","interpolate":"monotone","strokeWidth":0.9,"color":"#222"},"encoding":{"detail":{"field":"v","type":"nominal"}}},
{"data":{"name":"edges"},"transform":[{"filter":"datum.p==='H'"}],"mark":{"type":"rule","strokeWidth":1,"color":"#222"},"encoding":{"y2":{"field":"i2"}}},
{"data":{"name":"labels"},"transform":[{"filter":"datum.p==='H' && datum.k==='letter'"}],"mark":{"type":"text","fontSize":17,"align":"left","baseline":"alphabetic"},"encoding":{"text":{"field":"text"}}},
{"data":{"name":"labels"},"transform":[{"filter":"datum.p==='H' && datum.k==='name'"}],"mark":{"type":"text","align":"left","baseline":"alphabetic"},"encoding":{"text":{"field":"text"}}},
{"data":{"name":"labels"},"transform":[{"filter":"datum.p==='H' && datum.k==='cond'"}],"mark":{"type":"text","align":"right","baseline":"alphabetic"},"encoding":{"text":{"field":"text"}}},
{"data":{"name":"labels"},"transform":[{"filter":"datum.p==='H' && datum.k==='scale'"}],"mark":{"type":"text","align":"right","baseline":"middle"},"encoding":{"text":{"field":"text"}}},
{"data":{"name":"labels"},"transform":[{"filter":"datum.p==='H' && datum.k==='ital'"}],"mark":{"type":"text","align":"left","baseline":"middle","fontStyle":"italic","fontSize":15},"encoding":{"text":{"field":"text"}}}
]
},
{
"width":172,"height":122,
"title":{"text":"I","dy":13.4},
"encoding":{"x":{"field":"v","type":"quantitative","scale":{"domain":[-65,65],"nice":false,"zero":false},"axis":{"values":[-60,-40,-20,0,20,40,60],"title":"Vj (mV)"}},"y":{"field":"g","type":"quantitative","scale":{"domain":[0,1.03],"nice":false},"axis":{"values":[0,0.2,0.4,0.6,0.8,1],"format":".1f","title":"Normalized Gj"}}},
"layer":[
{"data":{"name":"fits"},"transform":[{"filter":"datum.p==='I' && datum.s==='sq'"}],"mark":{"type":"line","interpolate":"monotone","color":"#000","strokeWidth":1},"encoding":{"detail":{"field":"side","type":"nominal"}}},
{"data":{"name":"fits"},"transform":[{"filter":"datum.p==='I' && datum.s==='ci'"}],"mark":{"type":"line","interpolate":"monotone","color":"#555","strokeWidth":1},"encoding":{"detail":{"field":"side","type":"nominal"}}},
{"data":{"name":"gj"},"transform":[{"filter":"datum.p==='I' && isValid(datum.lo)"}],"mark":{"type":"rule","color":"#444","strokeWidth":0.8},"encoding":{"y":{"field":"lo","type":"quantitative","title":"Normalized Gj"},"y2":{"field":"hi"}}},
{"data":{"name":"gj"},"transform":[{"filter":"datum.p==='I' && isValid(datum.lo)"}],"mark":{"type":"tick","orient":"horizontal","size":4,"thickness":0.8,"color":"#444"},"encoding":{"y":{"field":"lo","type":"quantitative","title":"Normalized Gj"}}},
{"data":{"name":"gj"},"transform":[{"filter":"datum.p==='I' && isValid(datum.lo)"}],"mark":{"type":"tick","orient":"horizontal","size":4,"thickness":0.8,"color":"#444"},"encoding":{"y":{"field":"hi","type":"quantitative","title":"Normalized Gj"}}},
{"data":{"name":"gj"},"transform":[{"filter":"datum.p==='I' && datum.s==='sq'"}],"mark":{"type":"point","shape":"square","filled":true,"color":"#000","size":25,"opacity":1}},
{"data":{"name":"gj"},"transform":[{"filter":"datum.p==='I' && datum.s==='ci'"}],"mark":{"type":"point","shape":"circle","filled":true,"fill":"#fff","stroke":"#444","strokeWidth":0.9,"size":22,"opacity":1}}
]
}
]}
]
}
